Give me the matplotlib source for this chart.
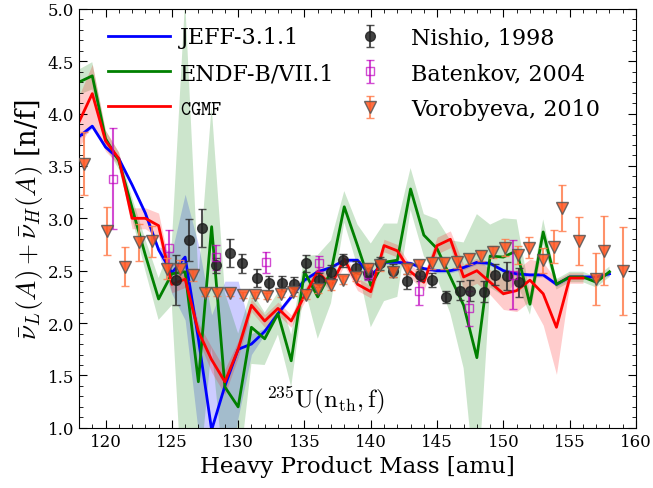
import numpy as np
import matplotlib
matplotlib.use("Agg")
import matplotlib.pyplot as plt

plt.rcParams['font.family'] = ['DejaVu Serif']
plt.rcParams['mathtext.fontset'] = 'cm'

# model curves (heavy mass A = 118..158)
A_jeff = np.arange(118, 159)
jeff = [3.78, 3.88, 3.68, 3.57, 3.32, 3.05, 2.70, 2.48, 2.63, 1.85, 0.98, 1.40,
        1.75, 1.80, 1.92, 2.09, 2.25, 2.41, 2.49, 2.53, 2.60, 2.60, 2.45, 2.58,
        2.58, 2.57, 2.52, 2.50, 2.50, 2.53, 2.58, 2.57, 2.50, 2.47, 2.46, 2.46,
        2.37, 2.44, 2.44, 2.44, 2.47]
jeff_err = [0.02, 0.02, 0.02, 0.02, 0.02, 0.02, 0.03, 0.20, 0.60, 0.90, 1.10, 1.00,
            0.65, 0.10, 0.03, 0.02, 0.02, 0.02, 0.02, 0.02, 0.02, 0.02, 0.02, 0.02,
            0.02, 0.02, 0.02, 0.02, 0.02, 0.02, 0.02, 0.02, 0.02, 0.02, 0.02, 0.02,
            0.02, 0.02, 0.02, 0.02, 0.02]

A_endf = np.arange(118, 159)
endf = [4.30, 4.36, 3.76, 3.55, 3.10, 2.65, 2.23, 2.47, 2.49, 1.44, 2.92, 1.39,
        1.20, 1.96, 1.85, 2.09, 1.64, 2.49, 2.25, 2.49, 3.11, 2.74, 2.36, 2.58,
        2.60, 3.28, 2.84, 2.71, 2.44, 2.17, 1.67, 2.64, 2.63, 2.69, 2.18, 2.87,
        2.37, 2.44, 2.44, 2.39, 2.49]
endf_err = [0.12, 0.13, 0.08, 0.08, 0.10, 0.15, 0.20, 0.30, 2.60, 1.00, 1.15, 0.90,
            0.70, 0.35, 0.25, 0.20, 0.25, 0.15, 0.40, 0.30, 0.15, 0.20, 0.40, 0.37,
            0.35, 0.20, 0.20, 0.28, 0.35, 0.60, 1.37, 0.30, 0.37, 0.30, 0.10, 0.12,
            0.05, 0.05, 0.05, 0.05, 0.05]

A_cgmf = np.arange(118, 157)
cgmf = [3.92, 4.19, 3.74, 3.57, 3.00, 3.00, 2.93, 2.37, 2.42, 1.92, 1.65, 1.44,
        1.75, 2.17, 2.02, 2.14, 2.02, 2.26, 2.49, 2.36, 2.61, 2.37, 2.30, 2.74,
        2.69, 2.49, 2.39, 2.74, 2.80, 2.44, 2.50, 2.39, 2.28, 2.31, 2.41, 2.28,
        1.96, 2.43, 2.43]
cgmf_err = [0.25, 0.28, 0.10, 0.06, 0.10, 0.10, 0.12, 0.08, 0.08, 0.08, 0.12, 0.12,
            0.08, 0.06, 0.06, 0.06, 0.06, 0.06, 0.06, 0.06, 0.06, 0.06, 0.06, 0.06,
            0.06, 0.06, 0.08, 0.08, 0.08, 0.12, 0.12, 0.12, 0.15, 0.20, 0.20, 0.30,
            0.45, 0.05, 0.05]

# experimental data
A_nishio = [125.3, 126.3, 127.3, 128.35, 129.4, 130.3, 131.4, 132.3, 133.3, 134.2,
            135.1, 136.1, 137.0, 137.9, 138.9, 139.8, 140.7, 141.7, 142.7, 143.7,
            144.65, 145.7, 146.7, 147.5, 148.5, 149.4, 150.3, 151.2]
nishio = [2.41, 2.79, 2.91, 2.55, 2.67, 2.57, 2.43, 2.38, 2.38, 2.37,
          2.57, 2.41, 2.49, 2.60, 2.53, 2.48, 2.57, 2.50, 2.40, 2.46,
          2.41, 2.25, 2.31, 2.31, 2.30, 2.46, 2.45, 2.39]
nishio_err = [0.24, 0.20, 0.18, 0.07, 0.13, 0.09, 0.09, 0.07, 0.07, 0.07,
              0.08, 0.07, 0.06, 0.06, 0.06, 0.06, 0.06, 0.06, 0.07, 0.06,
              0.07, 0.06, 0.09, 0.10, 0.10, 0.10, 0.13, 0.14]

A_batenkov = [120.6, 124.8, 128.35, 132.1, 136.1, 139.8, 143.65, 147.4, 150.7]
batenkov = [3.38, 2.72, 2.63, 2.58, 2.57, 2.47, 2.31, 2.14, 2.46]
batenkov_err = [0.48, 0.17, 0.12, 0.10, 0.07, 0.06, 0.14, 0.17, 0.33]

A_vorob = [118.4, 120.1, 121.5, 122.5, 123.5, 124.6, 125.6, 126.6, 127.5, 128.4,
           129.4, 130.4, 131.3, 132.2, 133.2, 134.1, 135.1, 136.0, 137.0, 137.9,
           138.9, 139.8, 140.7, 141.7, 142.7, 143.6, 144.6, 145.5, 146.5, 147.4,
           148.3, 149.2, 150.1, 151.1, 151.9, 153.0, 153.8, 154.4, 155.7, 157.0,
           157.6, 159.0]
vorob = [3.52, 2.88, 2.54, 2.77, 2.78, 2.52, 2.52, 2.46, 2.29, 2.29,
         2.29, 2.27, 2.27, 2.26, 2.28, 2.30, 2.27, 2.33, 2.36, 2.41,
         2.44, 2.52, 2.55, 2.49, 2.52, 2.55, 2.57, 2.57, 2.58, 2.61,
         2.64, 2.68, 2.72, 2.65, 2.72, 2.60, 2.73, 3.10, 2.78, 2.42,
         2.69, 2.50]
vorob_err = [0.30, 0.23, 0.19, 0.18, 0.15, 0.10, 0.08, 0.06, 0.03, 0.03,
             0.03, 0.03, 0.03, 0.03, 0.03, 0.04, 0.04, 0.04, 0.04, 0.04,
             0.04, 0.05, 0.05, 0.05, 0.05, 0.05, 0.05, 0.05, 0.05, 0.05,
             0.05, 0.06, 0.08, 0.09, 0.10, 0.12, 0.16, 0.22, 0.23, 0.25,
             0.33, 0.42]

fig = plt.figure(figsize=(6.53, 4.89), dpi=100)
ax = fig.add_axes([0.121, 0.123, 0.853, 0.857])

def band(A, y, e, col):
    y = np.array(y)
    e = np.array(e)
    ax.fill_between(A, y - e, y + e, color=col, alpha=0.2, lw=0)

band(A_jeff, jeff, jeff_err, 'b')
band(A_endf, endf, endf_err, 'g')
band(A_cgmf, cgmf, cgmf_err, 'r')

l1, = ax.plot(A_jeff, jeff, color='b', lw=2)
l2, = ax.plot(A_endf, endf, color='g', lw=2)
l3, = ax.plot(A_cgmf, cgmf, color='r', lw=2)

e1 = ax.errorbar(A_nishio, nishio, yerr=nishio_err, fmt='o', color='#222222',
                 ecolor='#333333', ms=7, capsize=3, alpha=0.85, zorder=4)
e2 = ax.errorbar(A_batenkov, batenkov, yerr=batenkov_err, fmt='s', mfc='none',
                 mec='m', ecolor='m', ms=6, capsize=3, alpha=0.7, zorder=4)
e3 = ax.errorbar(A_vorob, vorob, yerr=vorob_err, fmt='v', color='#ff5722',
                 mec='#555555', ecolor='#ff7f50', ms=8, capsize=3, alpha=0.85,
                 zorder=4)

ax.text(136.6, 1.28, r'$^{235}\mathrm{U}(\mathrm{n}_{\mathrm{th}},\mathrm{f})$',
        fontsize=18, ha='center', va='center')

ax.set_xlim(118, 160)
ax.set_ylim(1.0, 5.0)
ax.set_xticks(np.arange(120, 161, 5))
ax.set_yticks(np.arange(1.0, 5.01, 0.5))
ax.minorticks_on()
ax.tick_params(which='both', direction='in', top=True, right=True, labelsize=12)
ax.tick_params(which='major', length=6)
ax.tick_params(which='minor', length=3)
ax.set_xlabel('Heavy Product Mass [amu]', fontsize=16.5)
ax.set_ylabel(r'$\bar{\nu}_L(A)+\bar{\nu}_H(A)$ [n/f]', fontsize=19.5, labelpad=2)

leg = ax.legend([l1, l2, l3, e1, e2, e3],
                ['JEFF-3.1.1', 'ENDF-B/VII.1', r'$\mathtt{CGMF}$',
                 'Nishio, 1998', 'Batenkov, 2004', 'Vorobyeva, 2010'],
                ncol=2, frameon=False, loc='upper left',
                bbox_to_anchor=(0.036, 0.979), borderaxespad=0, fontsize=16,
                handlelength=2.8, columnspacing=0.18, handletextpad=0.45,
                labelspacing=0.62)
leg.get_texts()[2].set_fontsize(14)

fig.savefig('out.png', dpi=100)
